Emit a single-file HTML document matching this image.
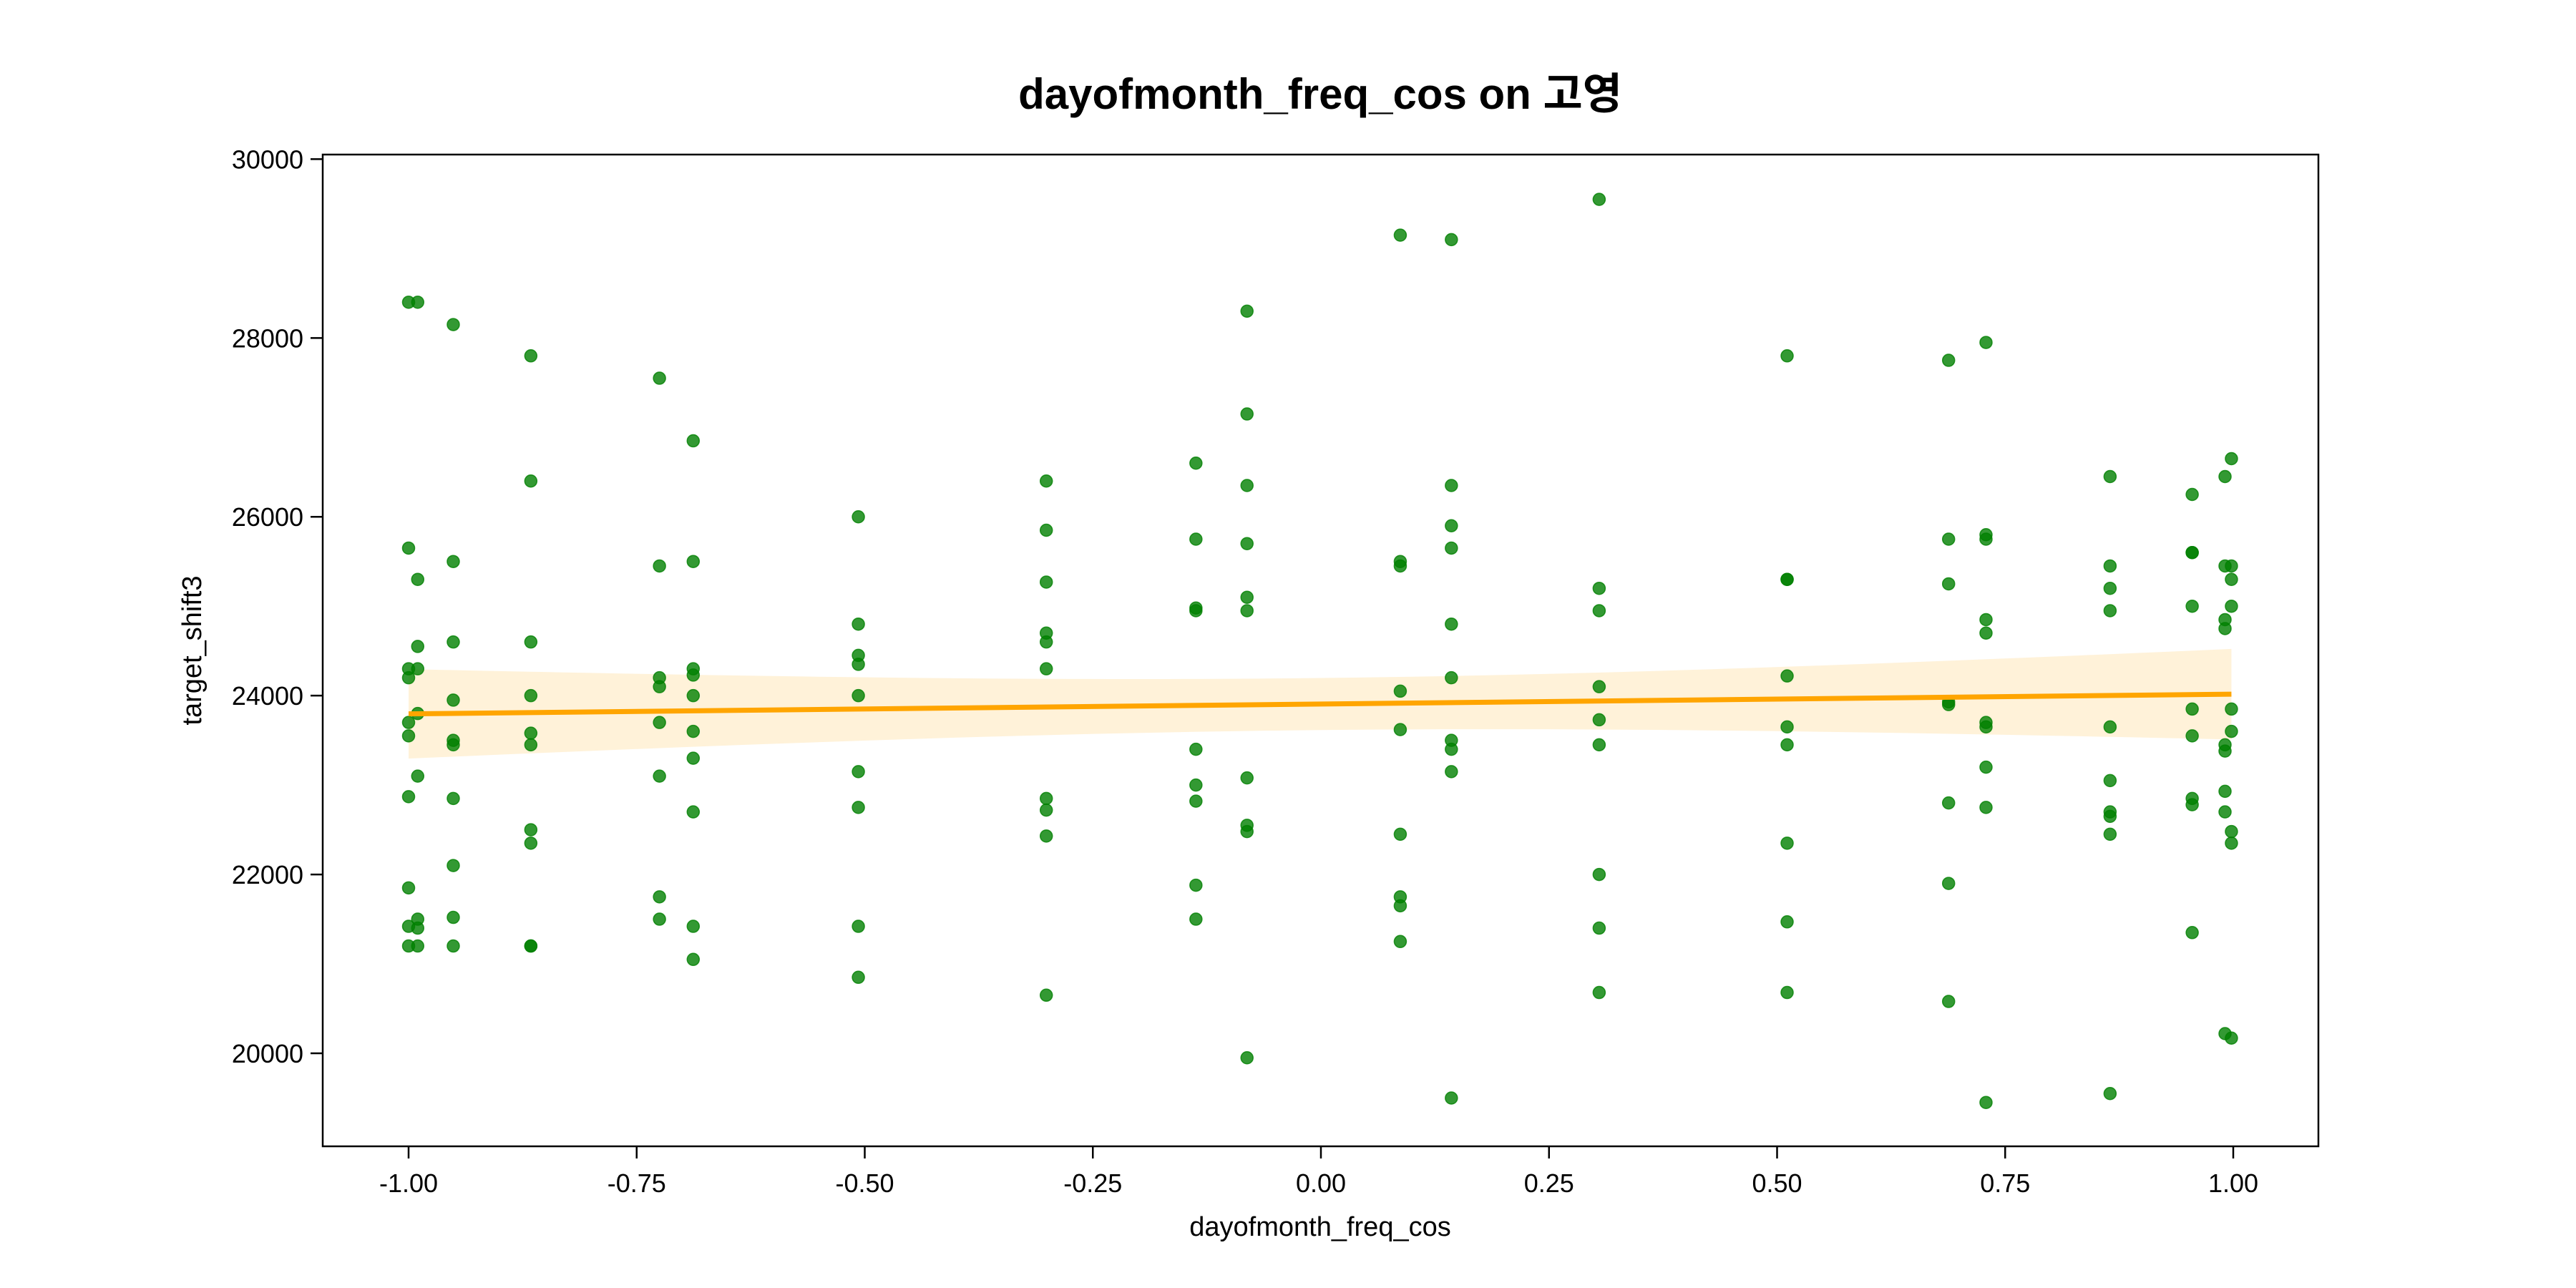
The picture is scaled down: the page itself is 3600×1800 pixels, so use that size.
<!DOCTYPE html>
<html><head><meta charset="utf-8"><style>
html,body{margin:0;padding:0;background:#fff;}
svg{display:block;}
text{font-family:"Liberation Sans","Noto Sans CJK KR",sans-serif;fill:#000;}
</style></head><body>
<svg id="chart" width="3600" height="1800" viewBox="0 0 3600 1800" xmlns="http://www.w3.org/2000/svg">
<rect width="3600" height="1800" fill="#fff"/>
<text x="1845" y="152" font-size="60" font-weight="bold" text-anchor="middle">dayofmonth_freq_cos on 고영</text>
<g id="band"></g>
<g id="points"></g>
<g id="line"></g>
<rect x="451" y="216" width="2789" height="1386" fill="none" stroke="#000" stroke-width="2.5"/>
<g id="xticks"></g>
<g id="yticks"></g>
<text x="1845" y="1727" font-size="38" text-anchor="middle">dayofmonth_freq_cos</text>
<text x="0" y="0" font-size="38" text-anchor="middle" transform="translate(281,909) rotate(-90)">target_shift3</text>
</svg>
<script>
const colX = [-1.0,-0.99,-0.951,-0.866,-0.725,-0.688,-0.507,-0.301,-0.137,-0.081,0.087,0.143,0.305,0.511,0.688,0.729,0.865,0.955,0.991,0.998];
const colY = [
[28400,25650,24300,24200,23700,23550,22870,21850,21420,21200],
[28400,25300,24550,24300,23800,23100,21500,21400,21200],
[28150,25500,24600,23950,23500,23450,22850,22100,21520,21200],
[27800,26400,24600,24000,23580,23450,22500,22350,21200,21200],
[27550,25450,24200,24100,23700,23100,21750,21500],
[26850,25500,24300,24230,24000,23600,23300,22700,21420,21050],
[26000,24800,24450,24350,24000,23150,22750,21420,20850],
[26400,25850,25270,24700,24600,24300,22850,22720,22430,20650],
[26600,25750,24980,24950,23400,23000,22820,21880,21500],
[28300,27150,26350,25700,25100,24950,23080,22550,22480,19950],
[29150,25500,25450,24050,23620,22450,21750,21650,21250],
[29100,26350,25900,25650,24800,24200,23500,23400,23150,19500],
[29550,25200,24950,24100,23730,23450,22000,21400,20680],
[27800,25300,25300,24220,23650,23450,22350,21470,20680],
[27750,25750,25250,23930,23900,22800,21900,20580],
[27950,25800,25750,24850,24700,23700,23650,23200,22750,19450],
[26450,25450,25200,24950,23650,23050,22700,22650,22450,19550],
[26250,25600,25600,25000,23850,23550,22850,22780,21350],
[26450,25450,24850,24750,23450,23380,22930,22700,20220],
[26650,25450,25300,25000,23850,23600,22480,22350,20170]
];
const xTicks = [-1.0,-0.75,-0.5,-0.25,0.0,0.25,0.5,0.75,1.0];
const xTickLabels = ["-1.00","-0.75","-0.50","-0.25","0.00","0.25","0.50","0.75","1.00"];
const yTicks = [20000,22000,24000,26000,28000,30000];
const yTickLabels = ["20000","22000","24000","26000","28000","30000"];

const NS="http://www.w3.org/2000/svg";
function X(v){return 1846+1275*v;}
function Y(v){return 1472-(v-20000)*0.12496;}
function mk(tag,attrs,parent){const e=document.createElementNS(NS,tag);for(const k in attrs)e.setAttribute(k,attrs[k]);parent.appendChild(e);return e;}

const pts=document.getElementById('points');
const xs=[],ys=[];
colX.forEach((x,i)=>{colY[i].forEach(y=>{xs.push(x);ys.push(y);
  const c=mk('circle',{cx:X(x),cy:Y(y),r:8.5,fill:'#008000','fill-opacity':0.8,stroke:'#008000','stroke-opacity':0.8,'stroke-width':1.5},pts);
  
  
});});

const n=xs.length;
const xm=xs.reduce((a,b)=>a+b,0)/n, ym=ys.reduce((a,b)=>a+b,0)/n;
let sxx=0,sxy=0;for(let i=0;i<n;i++){sxx+=(xs[i]-xm)**2;sxy+=(xs[i]-xm)*(ys[i]-ym);}
const b=sxy/sxx,a=ym-b*xm;
let sse=0;for(let i=0;i<n;i++){sse+=(ys[i]-a-b*xs[i])**2;}
const s=Math.sqrt(sse/(n-2));
const xmin=Math.min(...xs),xmax=Math.max(...xs);
const up=[],lo=[];
for(let k=0;k<=60;k++){const x=xmin+(xmax-xmin)*k/60;const f=a+b*x;const h=1.96*s*Math.sqrt(1/n+(x-xm)**2/sxx);
  up.push(X(x)+','+Y(f+h));lo.unshift(X(x)+','+Y(f-h));}
const band=mk('polygon',{points:up.concat(lo).join(' '),fill:'#ffa500','fill-opacity':0.15,stroke:'none'},document.getElementById('band'));


const ln=mk('line',{x1:X(xmin),y1:Y(a+b*xmin),x2:X(xmax),y2:Y(a+b*xmax),stroke:'#ffa500','stroke-width':7},document.getElementById('line'));



const xg=document.getElementById('xticks');
xTicks.forEach((t,i)=>{
  const tk=mk('line',{x1:X(t),x2:X(t),y1:1602,y2:1619,stroke:'#000','stroke-width':2.5},xg);
  
  
  const tx=mk('text',{x:X(t),y:1666,'font-size':36,'text-anchor':'middle'},xg);
  tx.textContent=xTickLabels[i];
  
  
});
const yg=document.getElementById('yticks');
yTicks.forEach((t,i)=>{
  const tk=mk('line',{x1:434,x2:451,y1:Y(t),y2:Y(t),stroke:'#000','stroke-width':2.5},yg);
  
  
  const tx=mk('text',{x:424,y:Y(t)+13,'font-size':36,'text-anchor':'end'},yg);
  tx.textContent=yTickLabels[i];
  
  
});
</script>
</body></html>
